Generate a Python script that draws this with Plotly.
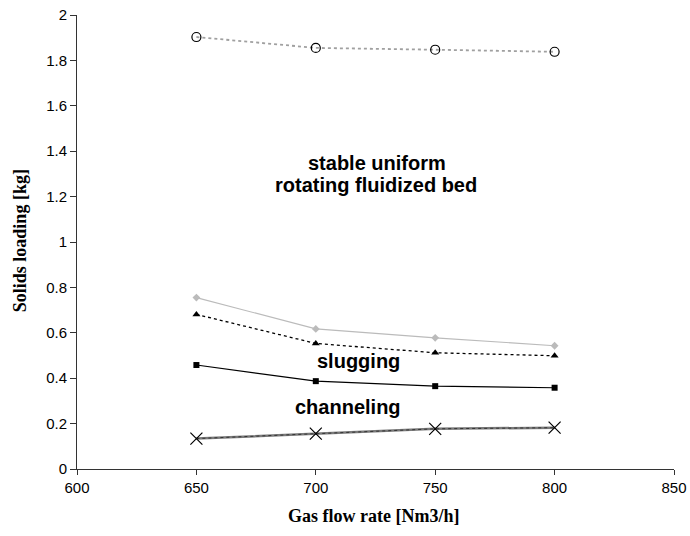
import plotly.graph_objects as go

x_vals = [650, 700, 750, 800]
stable_upper = [1.903, 1.855, 1.847, 1.838]
gray_diamond = [0.755, 0.617, 0.578, 0.543]
triangle = [0.681, 0.553, 0.512, 0.499]
square = [0.458, 0.387, 0.365, 0.358]
cross = [0.134, 0.156, 0.177, 0.182]

x_ticks = [600, 650, 700, 750, 800, 850]
y_ticks = [0, 0.2, 0.4, 0.6, 0.8, 1, 1.2, 1.4, 1.6, 1.8, 2]

fig = go.Figure()
fig.add_trace(go.Scatter(x=x_vals, y=stable_upper, mode="lines+markers",
    line=dict(color="#a0a0a0", width=1.8, dash="dot"),
    marker=dict(symbol="circle-open", size=9, color="black", line=dict(width=1.2))))
fig.add_trace(go.Scatter(x=x_vals, y=gray_diamond, mode="lines+markers",
    line=dict(color="#bbbbbb", width=1.2),
    marker=dict(symbol="diamond", size=6, color="#bbbbbb")))
fig.add_trace(go.Scatter(x=x_vals, y=triangle, mode="lines+markers",
    line=dict(color="black", width=1.3, dash="dot"),
    marker=dict(symbol="triangle-up", size=7, color="black")))
fig.add_trace(go.Scatter(x=x_vals, y=square, mode="lines+markers",
    line=dict(color="black", width=1.2),
    marker=dict(symbol="square", size=6, color="black")))
fig.add_trace(go.Scatter(x=x_vals, y=cross, mode="lines",
    line=dict(color="#7a7a7a", width=2.5), hoverinfo="skip"))
fig.add_trace(go.Scatter(x=x_vals, y=cross, mode="lines+markers",
    line=dict(color="#333333", width=1, dash="dot"),
    marker=dict(symbol="x-thin-open", size=12, color="black", line=dict(width=1.2, color="black"))))

ann_font = dict(family="Liberation Sans, Arial", size=20, color="black")
fig.add_annotation(x=725.8, y=1.348, text="<b>stable uniform</b>", showarrow=False, font=ann_font)
fig.add_annotation(x=725.4, y=1.253, text="<b>rotating fluidized bed</b>", showarrow=False, font=ann_font)
fig.add_annotation(x=717.7, y=0.476, text="<b>slugging</b>", showarrow=False, font=ann_font)
fig.add_annotation(x=713.5, y=0.273, text="<b>channeling</b>", showarrow=False, font=ann_font)

title_font = dict(family="Liberation Serif, Times New Roman", size=18, color="black")
fig.add_annotation(xref="paper", yref="paper", x=-0.0955, y=0.504, textangle=-90,
                   text="<b>Solids loading [kg]</b>", showarrow=False, font=title_font,
                   xanchor="center", yanchor="middle")
fig.add_annotation(xref="paper", yref="paper", x=0.497, y=-0.1035,
                   text="<b>Gas flow rate [Nm3/h]</b>", showarrow=False, font=title_font,
                   xanchor="center", yanchor="middle")

fig.update_layout(
    width=690, height=536, showlegend=False,
    paper_bgcolor="white", plot_bgcolor="white",
    margin=dict(l=77, r=16, t=15, b=67),
    font=dict(family="Liberation Sans, Arial", size=15, color="black"),
)
fig.update_xaxes(range=[600, 850], tickvals=x_ticks, ticks="outside", ticklen=5,
    tickcolor="#333333", showline=True, linecolor="#333333", linewidth=1,
    showgrid=False, zeroline=False, automargin=False)
fig.update_yaxes(range=[0, 2], tickvals=y_ticks, ticktext=[f"{v:g}" for v in y_ticks],
    ticks="outside", ticklen=6, tickcolor="#333333", showline=True, linecolor="#333333", linewidth=1,
    showgrid=False, zeroline=False, automargin=False)

fig.write_html("out.html", config={"displayModeBar": False},
               post_script="document.body.style.margin='0';document.body.style.overflow='hidden';")
